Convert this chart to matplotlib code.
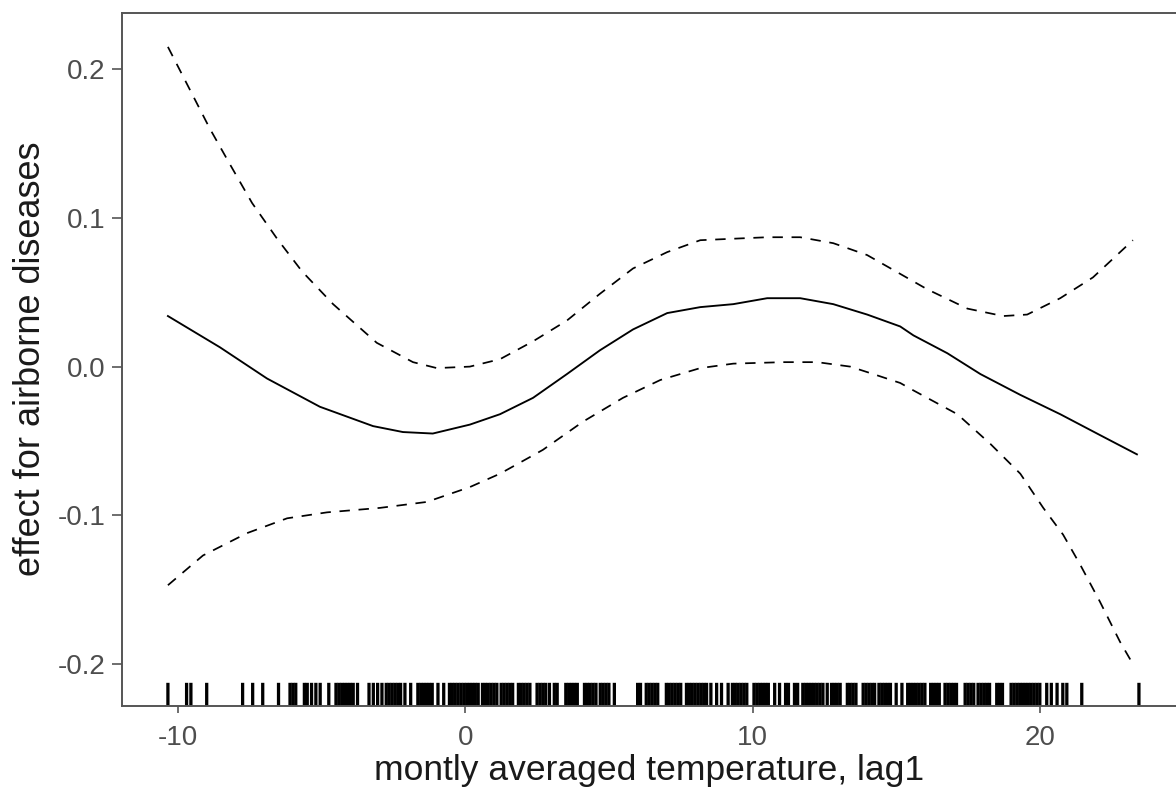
import matplotlib
matplotlib.use("Agg")
import matplotlib.pyplot as plt
import matplotlib.transforms as mtransforms

plt.rcParams['font.family'] = ['Liberation Sans', 'DejaVu Sans']
plt.rcParams['axes.unicode_minus'] = False

# smooth term
fit_x = [-10.35, -8.54, -6.90, -5.06, -3.21, -2.17, -1.13, 0.16, 1.21, 2.36,
         3.54, 4.69, 5.84, 7.03, 8.18, 9.33, 10.51, 11.66, 12.81, 13.99,
         15.14, 15.60, 16.78, 17.93, 19.32, 20.71, 22.09, 23.38]
fit_y = [0.034, 0.013, -0.008, -0.027, -0.040, -0.044, -0.045, -0.039, -0.032, -0.021,
         -0.005, 0.011, 0.025, 0.036, 0.040, 0.042, 0.046, 0.046, 0.042, 0.035,
         0.027, 0.021, 0.009, -0.005, -0.019, -0.032, -0.046, -0.059]

upper_x = [-10.35, -9.58, -8.89, -8.19, -7.42, -6.55, -5.68, -4.60, -3.08, -1.82,
           -0.99, 0.16, 1.21, 2.36, 3.54, 4.69, 5.84, 7.03, 8.18, 9.33,
           10.51, 11.66, 12.81, 13.99, 14.90, 16.08, 17.48, 18.72, 19.56, 20.71,
           21.85, 23.24]
upper_y = [0.215, 0.186, 0.160, 0.136, 0.110, 0.086, 0.064, 0.042, 0.016, 0.003,
           -0.001, 0.000, 0.005, 0.017, 0.031, 0.049, 0.066, 0.077, 0.085, 0.086,
           0.087, 0.087, 0.083, 0.075, 0.065, 0.052, 0.039, 0.034, 0.035, 0.046,
           0.060, 0.085]

lower_x = [-10.35, -9.13, -7.60, -6.20, -4.81, -2.97, -1.34, 0.16, 1.21, 2.70,
           4.10, 5.49, 6.79, 8.18, 9.33, 11.07, 12.25, 13.40, 14.20, 15.14,
           15.60, 17.13, 18.28, 19.32, 20.12, 20.81, 21.40, 22.09, 22.79, 23.21]
lower_y = [-0.147, -0.127, -0.112, -0.102, -0.098, -0.095, -0.091, -0.081, -0.072, -0.056,
           -0.037, -0.021, -0.009, -0.001, 0.002, 0.003, 0.003, 0.000, -0.005, -0.011,
           -0.016, -0.032, -0.052, -0.072, -0.095, -0.113, -0.133, -0.158, -0.185, -0.199]

# observed temperatures for the rug
rug_x = [-10.35, -9.7, -9.55, -9.0, -7.75, -7.4, -7.05, -6.5, -6.1, -6.0, -5.9,
         -5.6, -5.5, -5.35, -5.2, -5.05, -4.75,
         -4.5, -4.4, -4.3, -4.2, -4.1, -4.0, -3.9, -3.75,
         -3.35, -3.2, -3.05, -2.9,
         -2.75, -2.65, -2.55, -2.45, -2.35, -2.25, -2.1, -1.9,
         -1.65, -1.55, -1.45, -1.35, -1.25, -1.15, -0.95, -0.75,
         -0.55, -0.45, -0.35, -0.25, -0.15, -0.05, 0.05, 0.15, 0.25, 0.35, 0.45,
         0.6, 0.7, 0.8, 0.9, 1.0, 1.1,
         1.25, 1.35, 1.45, 1.55, 1.65,
         1.85, 1.95, 2.05, 2.15, 2.25,
         2.5, 2.6, 2.7, 2.8, 2.93, 3.1, 3.2,
         3.5, 3.6, 3.7, 3.8, 3.9,
         4.15, 4.25, 4.35, 4.45, 4.55,
         4.7, 4.8, 4.9, 5.0, 5.19,
         6.0, 6.1, 6.3, 6.4, 6.5, 6.6, 6.7,
         7.0, 7.1, 7.2, 7.3, 7.4, 7.5,
         7.7, 7.8, 7.9, 8.0, 8.1, 8.2, 8.3, 8.4,
         8.55, 8.75, 8.92, 9.15,
         9.3, 9.4, 9.5, 9.6, 9.7, 9.8,
         10.05, 10.15, 10.25, 10.35, 10.45, 10.55,
         10.77, 10.94, 11.15, 11.25, 11.46, 11.57,
         11.75, 11.85, 11.95, 12.05, 12.15, 12.25, 12.35, 12.45, 12.6,
         12.75, 12.85, 12.95, 13.05,
         13.3, 13.4, 13.5, 13.6,
         13.85, 13.95, 14.05, 14.15, 14.25,
         14.4, 14.5, 14.6, 14.7, 14.8, 15.0, 15.2,
         15.4, 15.5, 15.6, 15.7, 15.8, 15.9, 16.0,
         16.2, 16.3, 16.4, 16.5,
         16.7, 16.8, 16.9, 17.0, 17.1,
         17.4, 17.5, 17.6, 17.7,
         17.85, 17.95, 18.05, 18.15, 18.25,
         18.5, 18.6, 18.7,
         19.0, 19.1, 19.2, 19.3, 19.4, 19.5, 19.6, 19.7, 19.8, 19.9, 20.0,
         20.24, 20.4, 20.6, 20.8, 20.94, 21.46, 23.45]

x_ticks = [-10, 0, 10, 20]
y_ticks = [-0.2, -0.1, 0.0, 0.1, 0.2]
y_ticklabels = ["-0.2", "-0.1", "0.0", "0.1", "0.2"]

fig = plt.figure(figsize=(11.76, 8.01), dpi=100)
ax = fig.add_axes([0.1037, 0.119, 0.8963, 0.865])

ax.plot(fit_x, fit_y, color='black', lw=1.35)
ax.plot(upper_x, upper_y, color='black', lw=1.25, linestyle=(0, (6, 5)))
ax.plot(lower_x, lower_y, color='black', lw=1.25, linestyle=(0, (6, 5)))

# rug along the bottom
trans = mtransforms.blended_transform_factory(ax.transData, ax.transAxes)
ax.vlines(rug_x, 0, 0.033, transform=trans, color='black', lw=2.35, snap=False)

ax.set_xlim(-11.95, 24.74)
ax.set_ylim(-0.228, 0.2379)
ax.set_xticks(x_ticks)
ax.set_yticks(y_ticks)
ax.set_yticklabels(y_ticklabels)

for side in ['left', 'top', 'bottom']:
    ax.spines[side].set_color('#555555')
    ax.spines[side].set_linewidth(1.4)
ax.spines['right'].set_visible(False)

ax.tick_params(axis='both', colors='#555555', labelcolor='#4d4d4d', labelsize=20, width=1.2)
ax.tick_params(axis='y', length=7, pad=5)
ax.tick_params(axis='x', length=5, pad=9)

ax.set_xlabel("montly averaged temperature, lag1", fontsize=25.5, color='#1a1a1a', labelpad=2)
ax.set_ylabel("effect for airborne diseases", fontsize=26, color='#1a1a1a', labelpad=7)

fig.savefig("out.png", dpi=100)
